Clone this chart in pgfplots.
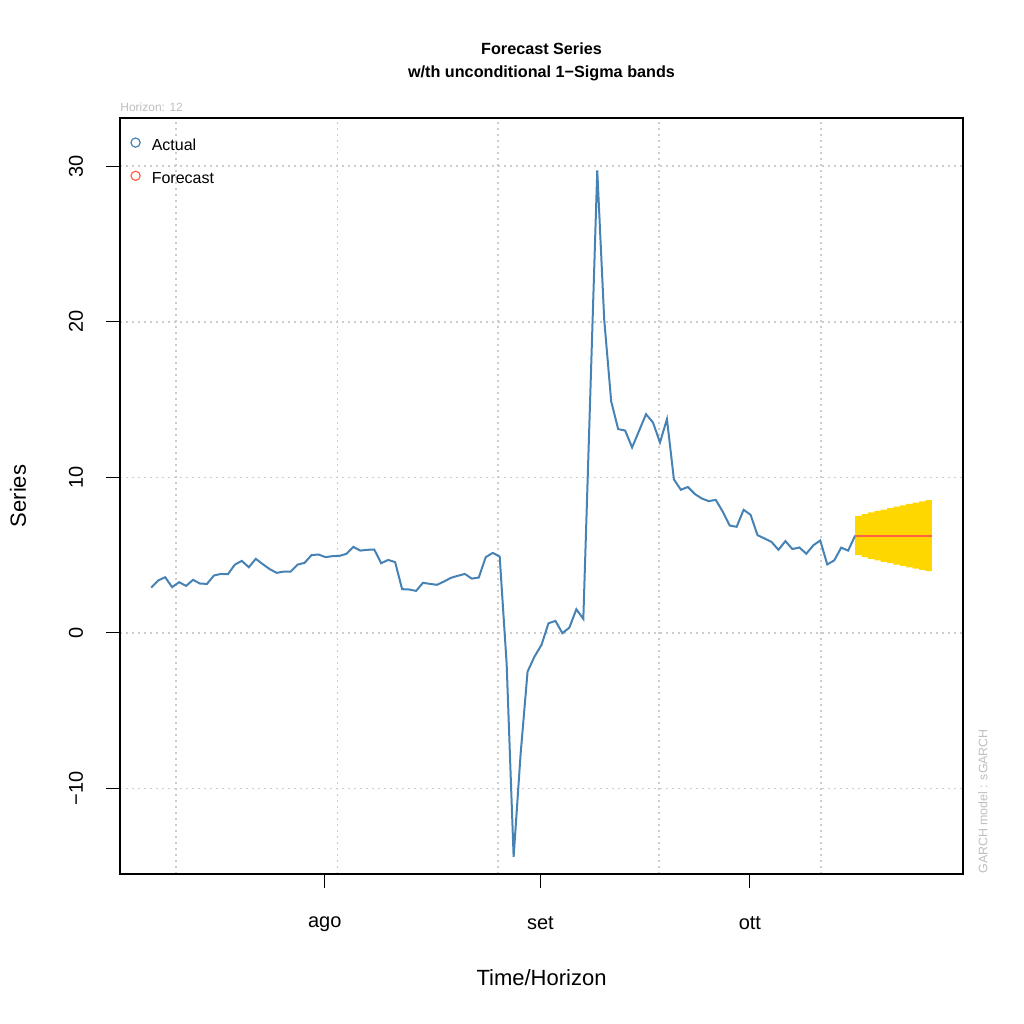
\documentclass[border=0pt]{standalone}
\usepackage{fontspec}
\setmainfont{Liberation Sans}
\usepackage{pgfplots}
\usepackage{pgfplotstable}
\pgfplotsset{compat=1.18}
\usepgfplotslibrary{fillbetween}
\definecolor{steelblue}{HTML}{4682B4}
\definecolor{tomato}{HTML}{FF6347}
\definecolor{gold}{HTML}{FFD700}
\definecolor{gridgray}{HTML}{CCCCCC}
\definecolor{notegray}{HTML}{BEBEBE}

\pgfplotstableread{
x y
1 2.91
2 3.37
3 3.58
4 2.94
5 3.26
6 3.02
7 3.41
8 3.17
9 3.15
10 3.69
11 3.79
12 3.77
13 4.39
14 4.63
15 4.22
16 4.76
17 4.42
18 4.10
19 3.86
20 3.94
21 3.94
22 4.39
23 4.50
24 5.00
25 5.04
26 4.87
27 4.93
28 4.95
29 5.08
30 5.53
31 5.29
32 5.34
33 5.36
34 4.48
35 4.69
36 4.55
37 2.81
38 2.79
39 2.70
40 3.22
41 3.15
42 3.09
43 3.30
44 3.54
45 3.67
46 3.79
47 3.49
48 3.56
49 4.87
50 5.14
51 4.91
52 -2.00
53 -14.40
54 -7.80
55 -2.49
56 -1.52
57 -0.77
58 0.62
59 0.77
60 -0.02
61 0.34
62 1.52
63 0.90
64 15.30
65 29.73
66 20.13
67 14.88
68 13.10
69 13.01
70 11.92
71 12.99
72 14.06
73 13.52
74 12.24
75 13.74
76 9.87
77 9.20
78 9.38
79 8.93
80 8.64
81 8.47
82 8.55
83 7.80
84 6.90
85 6.82
86 7.91
87 7.59
88 6.28
89 6.07
90 5.85
91 5.34
92 5.90
93 5.39
94 5.49
95 5.09
96 5.63
97 5.94
98 4.40
99 4.66
100 5.48
101 5.29
102 6.25
}\actual

\pgfplotstableread{
x y
102 6.25
103 6.25
104 6.25
105 6.25
106 6.25
107 6.25
108 6.25
109 6.25
110 6.25
111 6.25
112 6.25
113 6.25
}\forecast

\pgfplotstableread{
x up lo
102.000 7.50 5.00
102.917 7.63 4.87
103.833 7.74 4.76
104.750 7.84 4.66
105.667 7.93 4.57
106.583 8.02 4.48
107.500 8.11 4.39
108.417 8.20 4.30
109.333 8.29 4.21
110.250 8.37 4.13
111.167 8.45 4.05
112.083 8.53 3.97
113.000 8.53 3.97
}\bands

\begin{document}
\begin{tikzpicture}
\path (0,0) rectangle (512pt,512pt);
\begin{axis}[
  at={(60pt,75pt)}, anchor=south west,
  scale only axis, width=421.5pt, height=378pt,
  xmin=-3.48, xmax=117.48, ymin=-15.5, ymax=33.1,
  axis line style={line width=0.75pt},
  xtick={25.9,56.85,86.9}, xticklabels={ago,set,ott},
  ytick={-10,0,10,20,30}, yticklabels={−10,0,10,20,30},
  tick align=outside, xtick pos=left, ytick pos=left,
  major tick length=7pt,
  tick style={line width=0.5pt, black},
  ymajorgrids,
  extra x ticks={4.56,27.7,50.8,73.9,97.1},
  extra x tick labels={},
  extra x tick style={grid=major, major tick length=0pt},
  grid style={gridgray, line width=0.8pt, dash pattern=on 0.8pt off 2.2pt},
  ticklabel style={font=\fontsize{10}{12}\selectfont},
  xticklabel style={inner ysep=14.3pt},
  yticklabel style={rotate=90, anchor=south, inner ysep=11.3pt},
  xlabel={Time/Horizon}, ylabel={Series},
  label style={font=\fontsize{11}{13}\selectfont},
  x label style={at={(axis description cs:0.5,-0.1376)}, anchor=center},
  y label style={at={(axis description cs:-0.121,0.5)}, anchor=center},
  title={Forecast Series\\w/th unconditional 1−Sigma bands},
  title style={at={(axis description cs:0.5,1)}, anchor=center, yshift=22.25pt, align=center, font=\bfseries\fontsize{8.1}{11.5}\selectfont},
  legend style={at={(0,1)}, anchor=north west, draw=none, fill=none,
    font=\fontsize{8}{9.6}\selectfont, inner xsep=5pt, inner ysep=9.5pt,
    nodes={inner sep=0pt, text height=6pt, text depth=2pt},
    row sep=8pt, column sep=5.5pt},
  legend cell align=left,
  clip mode=individual,
]
\addlegendimage{legend image code/.code={\draw[steelblue, line width=0.6pt] (0pt,2pt) circle[radius=2.3pt];}}
\addlegendentry{Actual}
\addlegendimage{legend image code/.code={\draw[tomato, line width=0.6pt] (0pt,2pt) circle[radius=2.3pt];}}
\addlegendentry{Forecast}
\addplot[steelblue, line width=1pt, forget plot] table[x=x, y=y] {\actual};
\addplot[name path=up, draw=none, const plot, forget plot] table[x=x, y=up] {\bands};
\addplot[name path=lo, draw=none, const plot, forget plot] table[x=x, y=lo] {\bands};
\addplot[gold, forget plot] fill between[of=up and lo];
\addplot[tomato, line width=1pt, forget plot] table[x=x, y=y] {\forecast};
\node[anchor=base west, font=\fontsize{6}{7}\selectfont, text=notegray, inner sep=0pt] at (rel axis cs:0,1.008) {Horizon: 12};
\node[rotate=90, anchor=base west, font=\fontsize{6.2}{7}\selectfont, text=notegray, inner sep=0pt] at (rel axis cs:1.029,0) {GARCH model : sGARCH};
\end{axis}
\end{tikzpicture}
\end{document}
